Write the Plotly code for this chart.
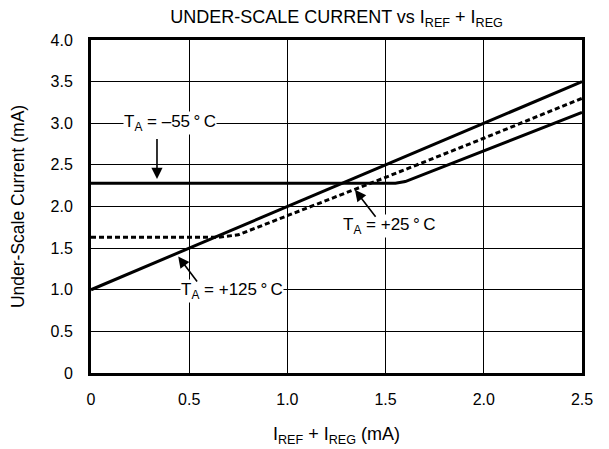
import plotly.graph_objects as go

# Data
x_m55 = [0.0, 1.55, 1.60, 2.0, 2.5]
y_m55 = [2.28, 2.28, 2.30, 2.67, 3.13]

x_p25 = [0.0, 0.65, 0.75, 1.0, 1.5, 2.0, 2.5]
y_p25 = [1.63, 1.63, 1.66, 1.89, 2.35, 2.82, 3.30]

x_p125 = [0.0, 2.5]
y_p125 = [1.0, 3.5]

x_ticks = [0, 0.5, 1.0, 1.5, 2.0, 2.5]
x_ticktext = ["0", "0.5", "1.0", "1.5", "2.0", "2.5"]
y_ticks = [0, 0.5, 1.0, 1.5, 2.0, 2.5, 3.0, 3.5, 4.0]
y_ticktext = ["0", "0.5", "1.0", "1.5", "2.0", "2.5", "3.0", "3.5", "4.0"]

FONT = "Liberation Sans, Arial, sans-serif"
W, H = 601, 441

fig = go.Figure()
fig.add_trace(go.Scatter(x=x_m55, y=y_m55, mode="lines",
                         line=dict(color="black", width=3), showlegend=False))
fig.add_trace(go.Scatter(x=x_p25, y=y_p25, mode="lines",
                         line=dict(color="black", width=3, dash="5px,3px"), showlegend=False))
fig.add_trace(go.Scatter(x=x_p125, y=y_p125, mode="lines",
                         line=dict(color="black", width=3), showlegend=False))

labels = [
    dict(text="T<sub>A</sub> = –55\u2009°\u2009C", x=0.40, y=3.0),
    dict(text="T<sub>A</sub> = +25\u2009°\u2009C", x=1.515, y=1.76),
    dict(text="T<sub>A</sub> = +125\u2009°\u2009C", x=0.72, y=0.98),
]
for l in labels:
    fig.add_annotation(x=l["x"], y=l["y"], text=l["text"], showarrow=False,
                       bgcolor="white", borderpad=0,
                       font=dict(family=FONT, size=17, color="black"))

arrows = [
    dict(x=0.336, y=2.33, ax=0.336, ay=2.83),
    dict(x=1.344, y=2.20, ax=1.455, ay=1.86),
    dict(x=0.444, y=1.40, ax=0.546, ay=1.08),
]
for a in arrows:
    fig.add_annotation(x=a["x"], y=a["y"], ax=a["ax"], ay=a["ay"],
                       xref="x", yref="y", axref="x", ayref="y",
                       text="", showarrow=True, arrowhead=2, arrowsize=1.4,
                       arrowwidth=1.6, arrowcolor="black")

fig.update_layout(
    width=W, height=H,
    margin=dict(l=83, r=27, t=32, b=76),
    paper_bgcolor="white", plot_bgcolor="white",
    font=dict(family=FONT, size=16, color="black"),
    title=dict(text="UNDER-SCALE CURRENT vs I<sub>REF</sub> + I<sub>REG</sub>",
               x=0.5, xanchor="center", xref="paper",
               y=1 - 9 / H, yanchor="middle", yref="container",
               font=dict(family=FONT, size=18, color="black")),
    xaxis=dict(range=[0, 2.5], tickvals=x_ticks, ticktext=x_ticktext,
               showgrid=True, gridcolor="black", gridwidth=1,
               showline=True, linecolor="black", linewidth=3, mirror=True,
               zeroline=False, ticks="", ticklen=0, ticklabelstandoff=10,
               automargin=False,
               tickfont=dict(family=FONT, size=16),
               title=dict(text="I<sub>REF</sub> + I<sub>REG</sub> (mA)",
                          font=dict(family=FONT, size=18), standoff=21)),
    yaxis=dict(range=[0, 4.0], tickvals=y_ticks, ticktext=y_ticktext,
               showgrid=True, gridcolor="black", gridwidth=1,
               showline=True, linecolor="black", linewidth=3, mirror=True,
               zeroline=False, ticks="", ticklen=0, ticklabelstandoff=12,
               automargin=False,
               tickfont=dict(family=FONT, size=16),
               title=dict(text="Under-Scale Current (mA)",
                          font=dict(family=FONT, size=17.5), standoff=23)),
)

fig.write_html("out.html")
